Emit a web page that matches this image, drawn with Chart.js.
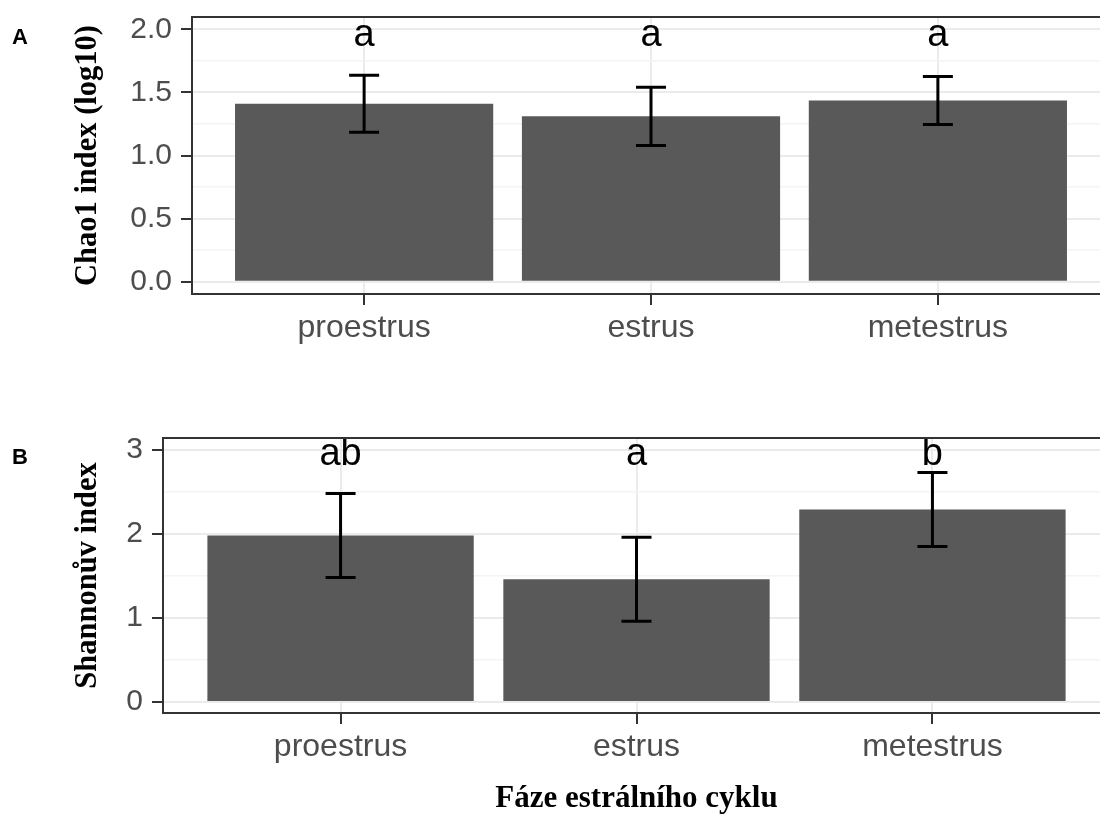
<!DOCTYPE html>
<html>
<head>
<meta charset="utf-8">
<script src="https://cdn.jsdelivr.net/npm/chart.js@4.4.1/dist/chart.umd.min.js"></script>
<style>
    html, body { margin: 0; padding: 0; background: #fff; overflow: hidden; width: 1100px; height: 819px; }
    canvas { position: absolute; left: 0; }
    #chao1 { top: 0; }
    #shannon { top: 400px; }
</style>
</head>
<body>
<canvas id="chao1" width="1112" height="400"></canvas>
<canvas id="shannon" width="1112" height="419"></canvas>
<script>
const phases = ["proestrus", "estrus", "metestrus"];

const chao1Mean = [1.41, 1.31, 1.435];
const chao1Err = [0.225, 0.23, 0.19];
const chao1Groups = ["a", "a", "a"];

const shannonMean = [1.98, 1.46, 2.29];
const shannonErr = [0.5, 0.5, 0.44];
const shannonGroups = ["ab", "a", "b"];

const TICK_FONT = "Liberation Sans";
const TITLE_FONT = "Liberation Serif";

// error bars, group letters, panel border and the panel tag (A/B)
const panelExtras = {
    id: "panelExtras",
    afterDatasetsDraw(chart, args, opts) {
        const { ctx, scales: { x, y } } = chart;
        ctx.save();
        ctx.strokeStyle = "#000";
        ctx.lineWidth = 3;
        opts.mean.forEach((m, i) => {
            const px = x.getPixelForValue(i);
            const top = y.getPixelForValue(m + opts.err[i]);
            const bot = y.getPixelForValue(m - opts.err[i]);
            ctx.beginPath();
            ctx.moveTo(px, top);
            ctx.lineTo(px, bot);
            ctx.moveTo(px - 15, top);
            ctx.lineTo(px + 15, top);
            ctx.moveTo(px - 15, bot);
            ctx.lineTo(px + 15, bot);
            ctx.stroke();
        });

        ctx.fillStyle = "#000";
        ctx.font = "38px '" + TICK_FONT + "'";
        ctx.textAlign = "center";
        ctx.textBaseline = "middle";
        opts.groups.forEach((g, i) => {
            ctx.fillText(g, x.getPixelForValue(i), y.getPixelForValue(opts.groupY));
        });
        ctx.restore();
    },
    afterDraw(chart, args, opts) {
        const { ctx, chartArea: { top, bottom, left, right } } = chart;
        ctx.save();
        ctx.strokeStyle = "#333";
        ctx.lineWidth = 2;
        ctx.strokeRect(left, top, right - left, bottom - top);

        ctx.fillStyle = "#000";
        ctx.font = "bold 22px '" + TICK_FONT + "'";
        ctx.textAlign = "left";
        ctx.textBaseline = "alphabetic";
        ctx.fillText(opts.tag, 12, opts.tagY);
        ctx.restore();
    }
};

function makePanel(canvas, p) {
    return new Chart(canvas, {
        type: "bar",
        data: {
            datasets: [{
                data: p.mean.map((v, i) => ({ x: i, y: v })),
                backgroundColor: "#595959",
                borderWidth: 0,
                categoryPercentage: 1.0,
                barPercentage: 0.9
            }]
        },
        options: {
            responsive: false,
            animation: false,
            devicePixelRatio: 1,
            layout: {
                padding: { left: p.padLeft, top: p.padTop, right: 2, bottom: 0 }
            },
            scales: {
                x: {
                    type: "linear",
                    min: -0.6,
                    max: 2.6,
                    offset: false,
                    afterFit(scale) {
                        scale.height = 106;
                        scale.paddingLeft = 0;
                        scale.paddingRight = 0;
                    },
                    grid: {
                        offset: false,
                        color: "#ebebeb",
                        lineWidth: 2,
                        tickColor: "#333",
                        tickWidth: 2,
                        tickLength: 11
                    },
                    border: { display: false },
                    ticks: {
                        stepSize: 1,
                        includeBounds: false,
                        padding: 4,
                        color: "#4d4d4d",
                        font: { family: TICK_FONT, size: 32 },
                        callback: (v) => phases[v]
                    },
                    title: {
                        display: !!p.xTitle,
                        text: p.xTitle,
                        color: "#000",
                        font: { family: TITLE_FONT, size: 31, weight: "bold", lineHeight: 1.2 },
                        padding: { top: 0, bottom: 1 }
                    }
                },
                y: {
                    min: p.yMin,
                    max: p.yMax,
                    afterFit(scale) {
                        scale.width = p.axisWidth;
                        scale.paddingTop = 0;
                        scale.paddingBottom = 0;
                    },
                    grid: {
                        color: (c) => c.tick && p.isMajor(c.tick.value) ? "#ebebeb" : "#f4f4f4",
                        lineWidth: (c) => c.tick && p.isMajor(c.tick.value) ? 2 : 1.5,
                        tickColor: (c) => c.tick && p.isMajor(c.tick.value) ? "#333" : "rgba(0,0,0,0)",
                        tickWidth: 2,
                        tickLength: 11
                    },
                    border: { display: false },
                    ticks: {
                        stepSize: p.step,
                        includeBounds: false,
                        autoSkip: false,
                        padding: 9,
                        color: "#4d4d4d",
                        font: { family: TICK_FONT, size: 30 },
                        callback: (v) => p.isMajor(v) ? p.fmt(v) : ""
                    },
                    title: {
                        display: true,
                        text: p.yTitle,
                        color: "#000",
                        font: { family: TITLE_FONT, size: 30.5, weight: "bold", lineHeight: 1.2 },
                        padding: 0
                    }
                }
            },
            plugins: {
                legend: { display: false },
                tooltip: { enabled: false },
                panelExtras: {
                    mean: p.mean,
                    err: p.err,
                    groups: p.groups,
                    groupY: p.groupY,
                    tag: p.tag,
                    tagY: p.tagY
                }
            }
        },
        plugins: [panelExtras]
    });
}

makePanel(document.getElementById("chao1"), {
    mean: chao1Mean,
    err: chao1Err,
    groups: chao1Groups,
    groupY: 1.95,
    yMin: -0.097,
    yMax: 2.097,
    step: 0.25,
    isMajor: (v) => Math.abs(v * 2 - Math.round(v * 2)) < 1e-6,
    fmt: (v) => v.toFixed(1),
    yTitle: "Chao1 index (log10)",
    padLeft: 70,
    padTop: 17,
    axisWidth: 122,
    tag: "A",
    tagY: 44
});

makePanel(document.getElementById("shannon"), {
    mean: shannonMean,
    err: shannonErr,
    groups: shannonGroups,
    groupY: 2.94,
    yMin: -0.131,
    yMax: 3.139,
    step: 0.5,
    isMajor: (v) => Math.abs(v - Math.round(v)) < 1e-6,
    fmt: (v) => String(v),
    yTitle: "Shannonův index",
    xTitle: "Fáze estrálního cyklu",
    padLeft: 70,
    padTop: 38,
    axisWidth: 93,
    tag: "B",
    tagY: 64
});
</script>
</body>
</html>
